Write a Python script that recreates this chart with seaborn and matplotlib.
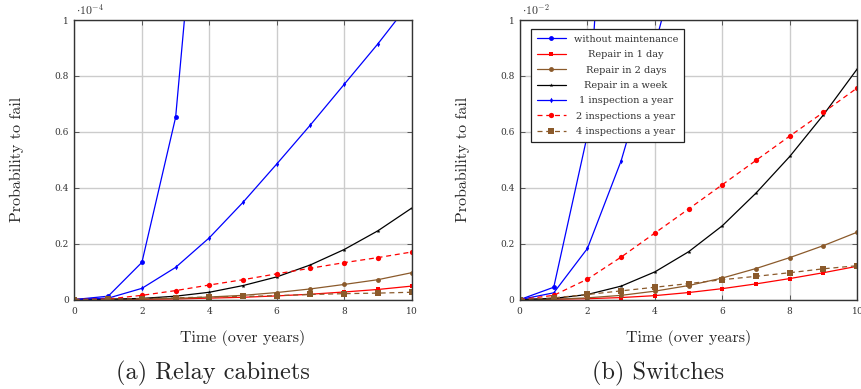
import matplotlib
matplotlib.use("Agg")
import matplotlib.pyplot as plt
import seaborn as sns

# time axis (years)
years = [0, 1, 2, 3, 4, 5, 6, 7, 8, 9, 10]

# (a) relay cabinets, values in units of 1e-4
rc_no_maint = [0, 0.012, 0.133, 0.652, 1.99]
rc_1day = [0, 0.0, 0.001, 0.002, 0.005, 0.008, 0.013, 0.019, 0.027, 0.036, 0.048]
rc_2days = [0, 0.0005, 0.002, 0.004, 0.009, 0.015, 0.025, 0.038, 0.054, 0.071, 0.096]
rc_week = [0, 0.001, 0.004, 0.012, 0.026, 0.050, 0.081, 0.124, 0.179, 0.246, 0.327]
rc_insp1 = [0, 0.005, 0.040, 0.115, 0.221, 0.348, 0.485, 0.625, 0.770, 0.915, 1.07]
rc_insp2 = [0, 0.002, 0.015, 0.032, 0.052, 0.071, 0.092, 0.112, 0.132, 0.150, 0.170]
rc_insp4 = [0, 0.001, 0.003, 0.006, 0.009, 0.011, 0.014, 0.018, 0.021, 0.023, 0.026]

# (b) switches, values in units of 1e-2
sw_no_maint = [0, 0.044, 0.59, 2.5]
sw_1day = [0, 0.001, 0.003, 0.007, 0.014, 0.025, 0.039, 0.056, 0.075, 0.096, 0.119]
sw_2days = [0, 0.001, 0.006, 0.015, 0.030, 0.050, 0.077, 0.111, 0.150, 0.193, 0.241]
sw_week = [0, 0.004, 0.018, 0.048, 0.099, 0.171, 0.264, 0.381, 0.512, 0.661, 0.825]
sw_insp1 = [0, 0.024, 0.183, 0.497, 0.91, 1.36]
sw_insp2 = [0, 0.015, 0.073, 0.152, 0.238, 0.324, 0.411, 0.498, 0.585, 0.670, 0.757]
sw_insp4 = [0, 0.006, 0.018, 0.031, 0.044, 0.057, 0.071, 0.083, 0.096, 0.110, 0.121]

labels = ["without maintenance", "Repair in 1 day", "Repair in 2 days",
          "Repair in a week", "1 inspection a year", "2 inspections a year",
          "4 inspections a year"]
y_ticks = [0, 0.2, 0.4, 0.6, 0.8, 1]
y_tick_labels = ["0", "0.2", "0.4", "0.6", "0.8", "1"]
x_ticks = [0, 2, 4, 6, 8, 10]

brown = "#8b5a2b"
# color, marker, markersize, linestyle
styles = [
    ("#0000ff", "o", 3.5, "-"),
    ("#ff0000", "s", 3.5, "-"),
    (brown, "o", 3.5, "-"),
    ("#000000", "*", 3.0, "-"),
    ("#0000ff", "d", 2.8, "-"),
    ("#ff0000", "o", 3.8, (0, (4, 3))),
    (brown, "s", 3.8, (0, (4, 3))),
]

sns.set_theme(style="ticks")
plt.rcParams["font.family"] = ["cmr10", "DejaVu Serif"]
plt.rcParams["mathtext.fontset"] = "cm"
plt.rcParams["axes.formatter.use_mathtext"] = True
small = "DejaVu Serif"

fig = plt.figure(figsize=(8.61, 3.89), dpi=100)
ax1 = fig.add_axes([0.0865, 0.230, 0.3916, 0.7185])
ax2 = fig.add_axes([0.604, 0.230, 0.3916, 0.7185])


def draw(ax, series, exp_label, caption, legend):
    for vals, lab, (c, m, ms, ls) in zip(series, labels, styles):
        sns.lineplot(x=years[:len(vals)], y=vals, ax=ax, color=c, marker=m,
                     markersize=ms, markeredgewidth=0, linewidth=0.9,
                     linestyle=ls, label=lab, legend=False)
    ax.set_xlim(0, 10)
    ax.set_ylim(0, 1)
    ax.set_xticks(x_ticks)
    ax.set_yticks(y_ticks, y_tick_labels)
    for t in ax.get_xticklabels() + ax.get_yticklabels():
        t.set_fontfamily(small)
    ax.grid(True, color="#cccccc", linewidth=1.0)
    ax.set_axisbelow(True)
    for s in ax.spines.values():
        s.set_color("#333333")
        s.set_linewidth(1.0)
    ax.tick_params(direction="in", length=3.5, width=0.7, color="#555555",
                   labelsize=6.5, labelcolor="#333333", top=True, right=True,
                   pad=4)
    ax.set_xlabel("Time (over years)", fontsize=11.5, labelpad=10)
    ax.set_ylabel("Probability to fail", fontsize=11.5, labelpad=22)
    ax.text(0.005, 1.012, exp_label, transform=ax.transAxes, fontsize=8.5,
            color="#333333", va="bottom", ha="left")
    fig.text(ax.get_position().x0 - 0.035 + ax.get_position().width / 2,
             0.04, caption, fontsize=17.5, ha="center", va="center")
    if legend:
        leg = ax.legend(loc="upper left", bbox_to_anchor=(0.032, 0.968),
                        prop={"family": small, "size": 7},
                        frameon=True, framealpha=1,
                        edgecolor="#222222", fancybox=False,
                        handlelength=3.0, labelspacing=0.66,
                        borderpad=0.6, handletextpad=0.8, borderaxespad=0)
        leg.get_frame().set_linewidth(0.9)
        # centre the entries inside the text column, as pgfplots does
        r = fig.canvas.get_renderer()
        texts = leg.get_texts()
        widths = [t.get_window_extent(r).width for t in texts]
        for t, w in zip(texts, widths):
            t.set_color("#333333")
            t.set_x((max(widths) - w) / 2)


draw(ax1, [rc_no_maint, rc_1day, rc_2days, rc_week, rc_insp1, rc_insp2, rc_insp4],
     r"$\cdot 10^{-4}$", "(a) Relay cabinets", False)
draw(ax2, [sw_no_maint, sw_1day, sw_2days, sw_week, sw_insp1, sw_insp2, sw_insp4],
     r"$\cdot 10^{-2}$", "(b) Switches", True)

fig.savefig("out.png", dpi=100)
